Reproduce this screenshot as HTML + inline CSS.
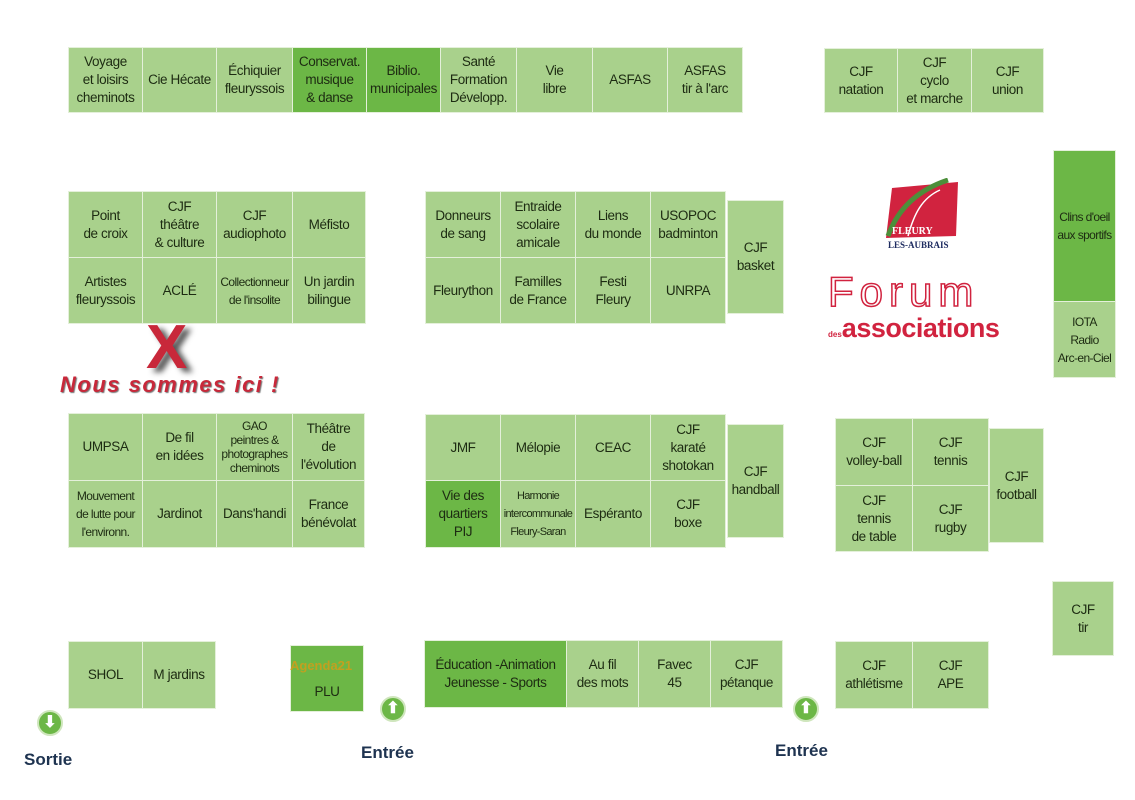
<!DOCTYPE html>
<html><head><meta charset="utf-8">
<style>
body{margin:0;width:1135px;height:800px;background:#fff;position:relative;overflow:hidden;font-family:"Liberation Sans",sans-serif;}
.c{position:absolute;box-sizing:border-box;background:#a9d18c;border:1px solid #e4f0da;display:flex;align-items:center;justify-content:center;text-align:center;font-size:13.5px;line-height:18px;color:#1d2b12;font-weight:normal;letter-spacing:-0.4px;white-space:nowrap;overflow:hidden;}
.d{background:#6cb746;}
.s{font-size:12px;letter-spacing:-0.6px;}
.arr{position:absolute;width:26px;height:26px;border-radius:50%;background:#6cb746;border:2px solid #cfe6bd;box-sizing:border-box;color:#fff;font-size:16px;line-height:22px;text-align:center;font-weight:bold;}
.lbl{position:absolute;font-family:"Liberation Sans",sans-serif;font-weight:bold;font-size:17px;color:#1e3350;}
</style></head><body>
<!-- row 1 -->
<div class="c" style="left:68px;top:47px;width:75px;height:66px">Voyage<br>et loisirs<br>cheminots</div>
<div class="c" style="left:142px;top:47px;width:75px;height:66px">Cie Hécate</div>
<div class="c" style="left:216px;top:47px;width:77px;height:66px">Échiquier<br>fleuryssois</div>
<div class="c d" style="left:292px;top:47px;width:75px;height:66px">Conservat.<br>musique<br>&amp; danse</div>
<div class="c d" style="left:366px;top:47px;width:75px;height:66px">Biblio.<br>municipales</div>
<div class="c" style="left:440px;top:47px;width:77px;height:66px">Santé<br>Formation<br>Développ.</div>
<div class="c" style="left:516px;top:47px;width:77px;height:66px">Vie<br>libre</div>
<div class="c" style="left:592px;top:47px;width:76px;height:66px">ASFAS</div>
<div class="c" style="left:667px;top:47px;width:76px;height:66px">ASFAS<br>tir à l'arc</div>
<div class="c" style="left:824px;top:48px;width:74px;height:65px">CJF<br>natation</div>
<div class="c" style="left:897px;top:48px;width:75px;height:65px">CJF<br>cyclo<br>et marche</div>
<div class="c" style="left:971px;top:48px;width:73px;height:65px">CJF<br>union</div>
<!-- block 2 -->
<div class="c" style="left:68px;top:191px;width:75px;height:67px">Point<br>de croix</div>
<div class="c" style="left:142px;top:191px;width:75px;height:67px">CJF<br>théâtre<br>&amp; culture</div>
<div class="c" style="left:216px;top:191px;width:77px;height:67px">CJF<br>audiophoto</div>
<div class="c" style="left:292px;top:191px;width:74px;height:67px">Méfisto</div>
<div class="c" style="left:68px;top:257px;width:75px;height:67px">Artistes<br>fleuryssois</div>
<div class="c" style="left:142px;top:257px;width:75px;height:67px">ACLÉ</div>
<div class="c s" style="left:216px;top:257px;width:77px;height:67px">Collectionneur<br>de l'insolite</div>
<div class="c" style="left:292px;top:257px;width:74px;height:67px">Un jardin<br>bilingue</div>
<!-- block 3 -->
<div class="c" style="left:425px;top:191px;width:76px;height:67px">Donneurs<br>de sang</div>
<div class="c" style="left:500px;top:191px;width:76px;height:67px">Entraide<br>scolaire<br>amicale</div>
<div class="c" style="left:575px;top:191px;width:76px;height:67px">Liens<br>du monde</div>
<div class="c" style="left:650px;top:191px;width:76px;height:67px">USOPOC<br>badminton</div>
<div class="c" style="left:425px;top:257px;width:76px;height:67px">Fleurython</div>
<div class="c" style="left:500px;top:257px;width:76px;height:67px">Familles<br>de France</div>
<div class="c" style="left:575px;top:257px;width:76px;height:67px">Festi<br>Fleury</div>
<div class="c" style="left:650px;top:257px;width:76px;height:67px">UNRPA</div>
<div class="c" style="left:727px;top:200px;width:57px;height:114px">CJF<br>basket</div>
<!-- right -->
<div class="c d s" style="left:1053px;top:150px;width:63px;height:152px">Clins d'oeil<br>aux sportifs</div>
<div class="c s" style="left:1053px;top:301px;width:63px;height:77px">IOTA<br>Radio<br>Arc-en-Ciel</div>
<!-- logo -->
<svg style="position:absolute;left:878px;top:178px" width="84" height="74">
<polygon points="14,10 80,4 78,58 8,60" fill="#d1233f"/>
<path d="M10,58 C20,30 40,12 70,2" stroke="#4c8f3a" stroke-width="5" fill="none"/>
<path d="M30,58 C36,36 44,20 62,12" stroke="#fff" stroke-width="1.5" fill="none"/>
<text x="14" y="56" font-family="Liberation Serif" font-weight="bold" font-size="10" fill="#fff">FLEURY</text>
<text x="10" y="70" font-family="Liberation Serif" font-weight="bold" font-size="9" fill="#1d2b60">LES-AUBRAIS</text>
</svg>
<div style="position:absolute;left:828px;top:270px;font-family:'Liberation Sans',sans-serif;font-size:42px;line-height:44px;color:#fff;-webkit-text-stroke:1.5px #d1233f;letter-spacing:6px">Forum</div>
<div style="position:absolute;left:828px;top:312px;font-family:'Liberation Sans',sans-serif;font-weight:bold;font-size:27px;line-height:32px;color:#d1233f;letter-spacing:-0.5px"><span style="font-size:8px;letter-spacing:0">des</span>associations</div>
<!-- X -->
<div style="position:absolute;left:146px;top:318px;font-family:'Liberation Sans',sans-serif;font-weight:bold;font-size:62px;line-height:60px;color:#c8283a;text-shadow:6px 4px 6px #555">X</div>
<div style="position:absolute;left:60px;top:372px;font-family:'Liberation Sans',sans-serif;font-weight:bold;font-style:italic;font-size:22px;line-height:26px;color:#c8283a;letter-spacing:1.5px;text-shadow:1px 1px 1px #777">Nous sommes ici !</div>
<!-- block 4 -->
<div class="c" style="left:68px;top:413px;width:75px;height:68px">UMPSA</div>
<div class="c" style="left:142px;top:413px;width:75px;height:68px">De fil<br>en idées</div>
<div class="c s" style="left:216px;top:413px;width:77px;height:68px;line-height:14px">GAO<br>peintres &amp;<br>photographes<br>cheminots</div>
<div class="c" style="left:292px;top:413px;width:73px;height:68px">Théâtre<br>de<br>l'évolution</div>
<div class="c s" style="left:68px;top:480px;width:75px;height:68px">Mouvement<br>de lutte pour<br>l'environn.</div>
<div class="c" style="left:142px;top:480px;width:75px;height:68px">Jardinot</div>
<div class="c" style="left:216px;top:480px;width:77px;height:68px">Dans'handi</div>
<div class="c" style="left:292px;top:480px;width:73px;height:68px">France<br>bénévolat</div>
<!-- block 5 -->
<div class="c" style="left:425px;top:414px;width:76px;height:67px">JMF</div>
<div class="c" style="left:500px;top:414px;width:76px;height:67px">Mélopie</div>
<div class="c" style="left:575px;top:414px;width:76px;height:67px">CEAC</div>
<div class="c" style="left:650px;top:414px;width:76px;height:67px">CJF<br>karaté<br>shotokan</div>
<div class="c d" style="left:425px;top:480px;width:76px;height:68px">Vie des<br>quartiers<br>PIJ</div>
<div class="c" style="left:500px;top:480px;width:76px;height:68px;font-size:11px;letter-spacing:-0.7px">Harmonie<br>intercommunale<br>Fleury-Saran</div>
<div class="c" style="left:575px;top:480px;width:76px;height:68px">Espéranto</div>
<div class="c" style="left:650px;top:480px;width:76px;height:68px">CJF<br>boxe</div>
<div class="c" style="left:727px;top:424px;width:57px;height:114px">CJF<br>handball</div>
<!-- block 6 -->
<div class="c" style="left:835px;top:418px;width:78px;height:68px">CJF<br>volley-ball</div>
<div class="c" style="left:912px;top:418px;width:77px;height:68px">CJF<br>tennis</div>
<div class="c" style="left:835px;top:485px;width:78px;height:67px">CJF<br>tennis<br>de table</div>
<div class="c" style="left:912px;top:485px;width:77px;height:67px">CJF<br>rugby</div>
<div class="c" style="left:989px;top:428px;width:55px;height:115px">CJF<br>football</div>
<div class="c" style="left:1052px;top:581px;width:62px;height:75px">CJF<br>tir</div>
<!-- bottom -->
<div class="c" style="left:68px;top:641px;width:75px;height:68px">SHOL</div>
<div class="c" style="left:142px;top:641px;width:74px;height:68px">M jardins</div>
<div class="c d" style="left:290px;top:645px;width:74px;height:67px;align-items:flex-end;padding-bottom:10px">PLU</div>
<div style="position:absolute;left:290px;top:658px;font-family:'Liberation Sans',sans-serif;font-weight:bold;font-size:13px;color:#c2a020">Agenda21</div>
<div class="c d" style="left:424px;top:640px;width:143px;height:68px">Éducation -Animation<br>Jeunesse - Sports</div>
<div class="c" style="left:566px;top:640px;width:73px;height:68px">Au fil<br>des mots</div>
<div class="c" style="left:638px;top:640px;width:73px;height:68px">Favec<br>45</div>
<div class="c" style="left:710px;top:640px;width:73px;height:68px">CJF<br>pétanque</div>
<div class="c" style="left:835px;top:641px;width:78px;height:68px">CJF<br>athlétisme</div>
<div class="c" style="left:912px;top:641px;width:77px;height:68px">CJF<br>APE</div>
<!-- arrows -->
<div class="arr" style="left:37px;top:710px">⬇</div>
<div class="arr" style="left:380px;top:696px">⬆</div>
<div class="arr" style="left:793px;top:696px">⬆</div>
<div class="lbl" style="left:24px;top:750px">Sortie</div>
<div class="lbl" style="left:361px;top:743px">Entrée</div>
<div class="lbl" style="left:775px;top:741px">Entrée</div>
</body></html>
